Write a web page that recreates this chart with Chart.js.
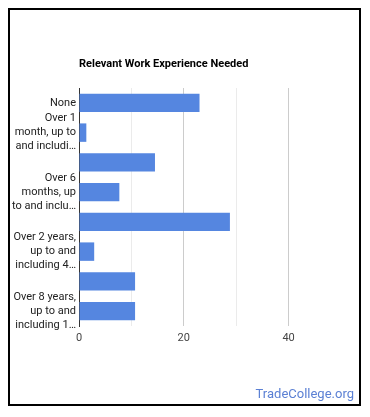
<!DOCTYPE html>
<html>
<head>
<meta charset="utf-8">
<script src="https://cdn.jsdelivr.net/npm/chart.js@4/dist/chart.umd.min.js"></script>
<style>
  html, body { margin: 0; padding: 0; background: #fff; font-family: Roboto, sans-serif; }
  #wrap { position: relative; width: 370px; height: 417px; }
  #frame {
    position: absolute; left: 8px; top: 8px; width: 353px; height: 398px;
    box-sizing: border-box; border: 2px solid #000; pointer-events: none;
  }
  #brand {
    position: absolute; right: 16px; top: 386px;
    font: 13px Roboto, sans-serif; color: #5b80d4;
  }
  canvas { position: absolute; left: 0; top: 0; }
</style>
</head>
<body>
<div id="wrap">
  <canvas id="expChart" width="370" height="417"></canvas>
  <div id="frame"></div>
  <div id="brand">TradeCollege.org</div>
</div>
<script>
const categories = [
  "None",
  "Over 1 month, up to and including 3 months",
  "Over 3 months, up to and including 6 months",
  "Over 6 months, up to and including 1 year",
  "Over 1 year, up to and including 2 years",
  "Over 2 years, up to and including 4 years",
  "Over 4 years, up to and including 6 years",
  "Over 8 years, up to and including 10 years"
];
// what the axis shows (every other label, wrapped and cut)
const tickLabels = [
  ["None"],
  ["Over 1", "month, up to", "and includi…"],
  "",
  ["Over 6", "months, up", "to and inclu…"],
  "",
  ["Over 2 years,", "up to and", "including 4…"],
  "",
  ["Over 8 years,", "up to and", "including 1…"]
];
const percents = [23, 1.4, 14.5, 7.7, 28.8, 2.9, 10.7, 10.7];
const xTicksShown = [0, 20, 40];

Chart.defaults.font.family = "Roboto, sans-serif";

const titlePlugin = {
  id: "leftTitle",
  afterDraw(chart) {
    const c = chart.ctx;
    c.save();
    c.font = "bold 11px Roboto, sans-serif";
    c.fillStyle = "#000";
    c.textBaseline = "middle";
    c.fillText("Relevant Work Experience Needed", chart.chartArea.left, 64);
    c.restore();
  }
};

function draw() {
  const ctx = document.getElementById("expChart").getContext("2d");
  new Chart(ctx, {
    type: "bar",
    data: {
      labels: categories,
      datasets: [{
        data: percents,
        backgroundColor: "#5586e0",
        borderWidth: 0,
        barPercentage: 0.62,
        categoryPercentage: 1
      }]
    },
    options: {
      indexAxis: "y",
      responsive: false,
      animation: false,
      layout: { padding: { left: 0, right: 29, top: 88, bottom: 71 } },
      plugins: {
        legend: { display: false },
        tooltip: { enabled: false },
        title: { display: false }
      },
      scales: {
        x: {
          min: 0,
          max: 50,
          afterFit(scale) { scale.height = 20; },
          border: { display: false },
          grid: {
            drawTicks: false,
            color(c) {
              const v = c.tick.value;
              if (v === 0 || v === 50) return "rgba(0,0,0,0)";
              return v % 20 === 0 ? "#cccccc" : "#ebebeb";
            }
          },
          ticks: {
            stepSize: 10,
            padding: 6,
            color: "#444",
            font: { size: 11 },
            callback(v) { return xTicksShown.includes(v) ? String(v) : ""; }
          }
        },
        y: {
          afterFit(scale) { scale.width = 79; },
          border: { display: true, color: "#333", width: 1 },
          grid: { display: false, drawTicks: false },
          ticks: {
            autoSkip: false,
            padding: 3,
            color: "#222",
            font: { size: 11, lineHeight: 1.27 },
            callback(v, i) { return tickLabels[i]; }
          }
        }
      }
    },
    plugins: [titlePlugin]
  });
}

document.fonts.load("11px Roboto").then(draw, draw);
</script>
</body>
</html>
